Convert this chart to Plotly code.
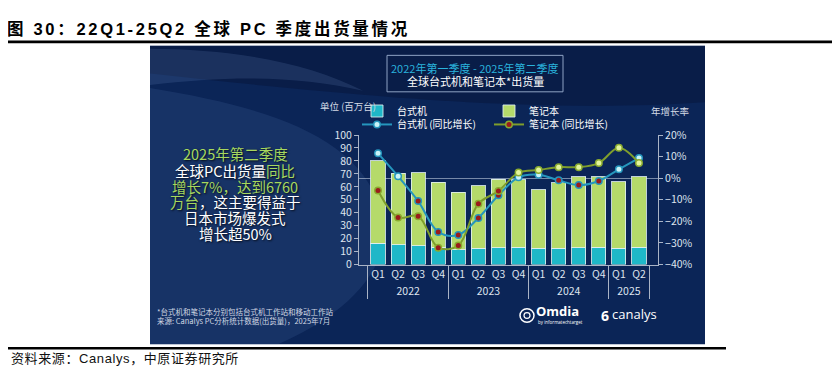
import plotly.graph_objects as go

# ---------------- data ----------------
quarters = ["Q1", "Q2", "Q3", "Q4", "Q1", "Q2", "Q3", "Q4", "Q1", "Q2", "Q3", "Q4", "Q1", "Q2"]
years = ["2022"] * 4 + ["2023"] * 4 + ["2024"] * 4 + ["2025"] * 2
desktop = [16.3, 15.3, 14.6, 13.3, 11.6, 12.4, 13.0, 13.3, 12.6, 12.6, 12.8, 13.3, 12.6, 13.3]
notebook = [63.7, 55.1, 56.2, 50.2, 44.2, 48.3, 52.9, 52.0, 45.2, 50.4, 55.1, 54.6, 51.3, 54.3]
desktop_yoy = [11.5, 0.9, -10.6, -24.9, -26.3, -18.4, -7.9, 0.4, 1.6, -1.0, -3.2, -1.3, 4.1, 9.3]
notebook_yoy = [-5.7, -18.2, -17.6, -32.2, -31.2, -11.8, -5.9, 2.6, 3.8, 5.1, 5.1, 7.0, 14.1, 7.0]

W, H = 840, 372


def fx(px):
    return px / W


def fy(py):
    return 1 - py / H


def pt(x, y):
    return f"{fx(x):.5f},{fy(y):.5f}"


CJK = "Noto Sans CJK SC"
SERIF_TITLE = "Liberation Sans, Noto Sans CJK SC"

x_cat = [years, quarters]

NEG = "#9a1c1c"
desk_marker = [NEG if v < 0 else "#c9f3f8" for v in desktop_yoy]
note_marker = [NEG if v < 0 else "#e2f59e" for v in notebook_yoy]

fig = go.Figure()

fig.add_trace(go.Bar(
    x=x_cat, y=desktop, name="台式机",
    marker=dict(color="#1fb7c8", line=dict(color="rgba(225,240,240,0.85)", width=1)),
    legend="legend",
))
fig.add_trace(go.Bar(
    x=x_cat, y=notebook, name="笔记本",
    marker=dict(color="#b5da6a", line=dict(color="rgba(225,240,240,0.85)", width=1)),
    legend="legend",
))
fig.add_trace(go.Scatter(
    x=x_cat, y=desktop_yoy, name="台式机 (同比增长)", yaxis="y2",
    mode="lines+markers",
    line=dict(color="#2596bd", width=2, shape="spline", smoothing=1),
    marker=dict(size=6.5, color=desk_marker, line=dict(color="#2596bd", width=1.5)),
    legend="legend2",
))
fig.add_trace(go.Scatter(
    x=x_cat, y=notebook_yoy, name="笔记本 (同比增长)", yaxis="y2",
    mode="lines+markers",
    line=dict(color="#7f9e2c", width=2, shape="spline", smoothing=1),
    marker=dict(size=6.5, color=note_marker, line=dict(color="#8aab30", width=1.5)),
    legend="legend2",
))

AX = "#aab4c6"
TICKF = dict(family=CJK, size=10.5, color="#dfe4ee")

shapes = []
# panel background
shapes.append(dict(type="rect", xref="paper", yref="paper", layer="below",
                   x0=fx(142), x1=fx(697), y0=fy(342), y1=fy(31),
                   fillcolor="#0b2557", line=dict(width=0)))
# darker top band
shapes.append(dict(type="path", xref="paper", yref="paper", layer="below",
                   path=f"M{pt(142,31)} L{pt(697,31)} L{pt(697,90)} C{pt(560,100)} {pt(400,90)} {pt(142,60)} Z",
                   fillcolor="rgba(5,15,45,0.35)", line=dict(width=0)))
# lighter swoosh region at left
shapes.append(dict(type="path", xref="paper", yref="paper", layer="below",
                   path=f"M{pt(142,75)} C{pt(260,95)} {pt(350,125)} {pt(372,200)} C{pt(392,265)} {pt(330,315)} {pt(270,342)} L{pt(142,342)} Z",
                   fillcolor="rgba(110,150,210,0.13)", line=dict(width=0)))
# upper crescent
shapes.append(dict(type="path", xref="paper", yref="paper", layer="below",
                   path=f"M{pt(142,34)} C{pt(220,34)} {pt(300,48)} {pt(355,78)} C{pt(290,62)} {pt(220,62)} {pt(142,72)} Z",
                   fillcolor="rgba(140,180,235,0.14)", line=dict(width=0)))
# title box
shapes.append(dict(type="rect", xref="paper", yref="paper",
                   x0=fx(379), x1=fx(555), y0=fy(79), y1=fy(41),
                   line=dict(color="#8fa3c4", width=1), fillcolor="rgba(0,0,0,0)"))
# outer rules
shapes.append(dict(type="rect", xref="paper", yref="paper",
                   x0=0, x1=1, y0=fy(28.5), y1=fy(25.5),
                   fillcolor="black", line=dict(width=0)))
shapes.append(dict(type="rect", xref="paper", yref="paper",
                   x0=0, x1=fx(718), y0=fy(347.5), y1=fy(345),
                   fillcolor="black", line=dict(width=0)))
# Omdia icon
shapes.append(dict(type="circle", xref="paper", yref="paper",
                   x0=fx(512), x1=fx(526), y0=fy(319), y1=fy(305),
                   line=dict(color="white", width=1.5)))
shapes.append(dict(type="circle", xref="paper", yref="paper",
                   x0=fx(516), x1=fx(522), y0=fy(315), y1=fy(309),
                   line=dict(color="white", width=1.2)))

annotations = []


def ann(text, x, y, size, color="white", xanchor="center", family=CJK, shadow=None, **kw):
    font = dict(family=family, size=size, color=color)
    if shadow:
        font["shadow"] = shadow
    annotations.append(dict(text=text, x=fx(x), y=fy(y), xref="paper", yref="paper",
                            xanchor=xanchor, yanchor="middle", showarrow=False, font=font, **kw))


# outer title & source
ann("<span style='letter-spacing:2.7px'><b>图 30：22Q1-25Q2 全球 PC 季度出货量情况</b></span>",
    200, 13.5, 16.5, color="black", family=SERIF_TITLE, borderpad=0)
ann("<span style='letter-spacing:0.6px'>资料来源：Canalys，中原证券研究所</span>",
    117, 357, 13, color="#111111", family=SERIF_TITLE, borderpad=0)

# chart title box text
ann("2022年第一季度 - 2025年第二季度", 467, 54, 11, color="#2ab3dd")
ann("全球台式机和笔记本*出货量", 467, 68, 11, color="white")

# axis titles
ann("单位 (百万台)", 340, 94, 9.5, color="#d5dbe6", borderpad=0)
ann("年增长率", 662, 99, 9.5, color="#d5dbe6")

# left highlight text
G = "#a6d85f"
shadow = "1px 1px 2px rgba(0,0,0,0.8)"
left_lines = [
    (f"<span style='color:{G}'>2025年第二季度</span>", 143.5),
    (f"全球PC出货量<span style='color:{G}'>同比</span>", 161.5),
    (f"<span style='color:{G}'>增长7%，达到6760</span>", 177.5),
    (f"<span style='color:{G}'>万台</span>，这主要得益于", 193.5),
    ("日本市场爆发式", 209.5),
    ("增长超50%", 226.5),
]
for t, yy in left_lines:
    ann(t, 227, yy, 14.5, color="white", shadow=shadow, borderpad=0)

# footnote
ann("*台式机和笔记本分别包括台式机工作站和移动工作站", 148, 308, 7.5, color="#d0d7e3", xanchor="left", borderpad=0)
ann("来源: Canalys PC分析统计数据(出货量)，2025年7月", 148, 317, 7.5, color="#d0d7e3", xanchor="left", borderpad=0)

# logos
ann("<b>Omdia</b>", 527, 307, 13, color="white", xanchor="left", family="Open Sans", borderpad=0)
ann("by informatechtarget", 529, 319, 4.5, color="white", xanchor="left", family="Open Sans", borderpad=0)
ann("<b>6</b>", 597, 312, 14, color="white", family="Open Sans", borderpad=0)
ann("canalys", 603, 311, 13, color="white", xanchor="left", family="Open Sans", borderpad=0)

LEGF = dict(family=CJK, size=10, color="white")
fig.update_layout(
    width=W, height=H, autosize=False,
    margin=dict(l=0, r=0, t=0, b=0),
    paper_bgcolor="white", plot_bgcolor="rgba(0,0,0,0)",
    barmode="stack", bargap=0.3,
    showlegend=True,
    font=dict(family=CJK, color="white"),
    xaxis=dict(
        type="multicategory", domain=[fx(351), fx(650)],
        showline=True, linecolor=AX, linewidth=1,
        showdividers=True, dividercolor=AX, dividerwidth=1,
        ticks="", tickangle=0, tickfont=TICKF, showgrid=False,
    ),
    yaxis=dict(
        domain=[fy(259), fy(124)], range=[0, 100], dtick=10,
        showline=True, linecolor=AX, linewidth=1,
        ticks="outside", ticklen=4, tickcolor=AX,
        tickfont=TICKF, showgrid=False, zeroline=False,
    ),
    yaxis2=dict(
        overlaying="y", side="right", range=[-40, 20], dtick=10, ticksuffix="%",
        showline=True, linecolor=AX, linewidth=1,
        ticks="outside", ticklen=4, tickcolor=AX,
        tickfont=TICKF, showgrid=False,
        zeroline=True, zerolinecolor="rgba(210,220,235,0.55)", zerolinewidth=1,
    ),
    legend=dict(
        orientation="h", x=fx(349), y=fy(99), xanchor="left", yanchor="middle",
        font=LEGF, bgcolor="rgba(0,0,0,0)", traceorder="normal",
        entrywidth=87, entrywidthmode="pixels", itemwidth=30,
    ),
    legend2=dict(
        orientation="h", x=fx(349), y=fy(113), xanchor="left", yanchor="middle",
        font=LEGF, bgcolor="rgba(0,0,0,0)", traceorder="normal",
        entrywidth=87, entrywidthmode="pixels", itemwidth=30,
    ),
    shapes=shapes,
    annotations=annotations,
)

fig.write_html("out.html")
